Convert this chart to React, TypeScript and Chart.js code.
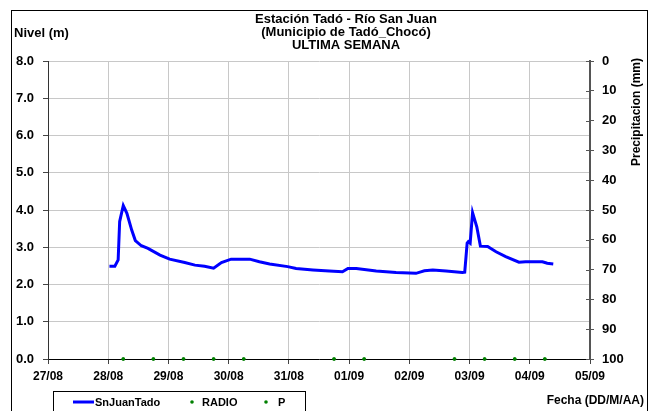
import React, { useEffect, useRef } from "react";
import { Chart, registerables } from "chart.js";

Chart.register(...registerables);

// ---- data ----
const titleLines = ["Estación Tadó - Río San Juan", "(Municipio de Tadó_Chocó)", "ULTIMA SEMANA"];
const leftAxisTitle = "Nivel (m)";
const rightAxisTitle = "Precipitacion (mm)";
const xAxisTitle = "Fecha (DD/M/AA)";

// tick labels (one per day, day 0 = 27/08)
const dateLabels = ["27/08", "28/08", "29/08", "30/08", "31/08", "01/09", "02/09", "03/09", "04/09", "05/09"];

// SnJuanTado level series: days since 27/08 00:00 and level in m
const levelDays = [
  1.02, 1.11, 1.165, 1.19, 1.25, 1.31, 1.39, 1.45, 1.55, 1.66, 1.86, 2.02, 2.27, 2.44, 2.6, 2.75, 2.88, 3.04,
  3.35, 3.51, 3.68, 3.98, 4.12, 4.4, 4.67, 4.89, 4.98, 5.12, 5.45, 5.78, 6.11, 6.19, 6.25, 6.39, 6.61, 6.88,
  6.92, 6.96, 6.98, 7.01, 7.05, 7.12, 7.18, 7.3, 7.44, 7.6, 7.82, 7.93, 8.21, 8.29, 8.39,
];
const levelValues = [
  2.49, 2.49, 2.66, 3.69, 4.12, 3.91, 3.46, 3.18, 3.04, 2.97, 2.79, 2.68, 2.59, 2.52, 2.49, 2.44, 2.59, 2.68,
  2.68, 2.61, 2.55, 2.48, 2.43, 2.39, 2.36, 2.34, 2.43, 2.43, 2.36, 2.32, 2.3, 2.34, 2.37, 2.39, 2.36, 2.32,
  2.33, 3.11, 3.15, 3.11, 3.93, 3.55, 3.03, 3.02, 2.88, 2.75, 2.6, 2.61, 2.61, 2.57, 2.55,
];

// RADIO and P point series
const radioDays = [1.25, 1.75, 2.25, 2.75, 3.25, 4.75, 5.25, 6.75, 7.25, 7.75, 8.25];
const radioValues = [0, 0, 0, 0, 0, 0, 0, 0, 0, 0, 0];
const pDays = [1.25, 1.75, 2.25, 2.75, 3.25, 4.75, 5.25, 6.75, 7.25, 7.75, 8.25];
const pValues = [0, 0, 0, 0, 0, 0, 0, 0, 0, 0, 0];

const seriesNames = ["SnJuanTado", "RADIO", "P"];

const FONT = '"Liberation Sans", Arial, Helvetica, sans-serif';

export default function App() {
  const ref = useRef<HTMLCanvasElement>(null);

  useEffect(() => {
    const canvas = ref.current;
    if (!canvas) return;

    const decor = {
      id: "decor",
      afterDraw(chart: any) {
        const ctx = chart.ctx as CanvasRenderingContext2D;
        ctx.save();
        // outer frame
        ctx.strokeStyle = "#000";
        ctx.lineWidth = 1;
        ctx.strokeRect(11.5, 10.5, 636, 440);

        // titles
        ctx.fillStyle = "#000";
        ctx.font = `bold 13px ${FONT}`;
        ctx.textAlign = "center";
        ctx.textBaseline = "middle";
        titleLines.forEach((t, i) => ctx.fillText(t, 346, 19 + i * 13));

        ctx.textAlign = "left";
        ctx.fillText(leftAxisTitle, 14, 33);

        ctx.font = `bold 12px ${FONT}`;
        ctx.textAlign = "right";
        ctx.fillText(xAxisTitle, 644, 401);

        ctx.save();
        ctx.translate(637, 112);
        ctx.rotate(-Math.PI / 2);
        ctx.textAlign = "center";
        ctx.fillText(rightAxisTitle, 0, 0);
        ctx.restore();

        // right axis crossing ticks
        const s = chart.scales.y1;
        ctx.strokeStyle = "#555";
        ctx.lineWidth = 1;
        s.ticks.forEach((t: any) => {
          const yy = Math.round(s.getPixelForValue(t.value)) + 0.5;
          ctx.beginPath();
          ctx.moveTo(s.left - 4, yy);
          ctx.lineTo(s.left, yy);
          ctx.stroke();
        });

        // legend
        ctx.strokeStyle = "#000";
        ctx.strokeRect(53.5, 391.5, 252, 40);
        const ds = chart.data.datasets;
        ctx.font = `bold 11px ${FONT}`;
        ctx.textAlign = "left";
        ctx.textBaseline = "middle";
        const ly = 402;
        // line item
        ctx.strokeStyle = ds[0].borderColor;
        ctx.lineWidth = 3;
        ctx.beginPath();
        ctx.moveTo(73, ly);
        ctx.lineTo(94, ly);
        ctx.stroke();
        ctx.fillStyle = "#000";
        ctx.fillText(ds[0].label, 95, ly + 1);
        // point items
        const items = [
          { i: 1, dot: 192, tx: 202 },
          { i: 2, dot: 266, tx: 278 },
        ];
        items.forEach(({ i, dot, tx }) => {
          ctx.fillStyle = ds[i].backgroundColor;
          ctx.beginPath();
          ctx.arc(dot, ly, 1.8, 0, Math.PI * 2);
          ctx.fill();
          ctx.fillStyle = "#000";
          ctx.fillText(ds[i].label, tx, ly + 1);
        });
        ctx.restore();
      },
    };

    const chart = new Chart(canvas, {
      type: "line",
      data: {
        datasets: [
          {
            label: seriesNames[0],
            data: levelDays.map((d, i) => ({ x: d, y: levelValues[i] })),
            borderColor: "#0000ff",
            backgroundColor: "#0000ff",
            borderWidth: 3,
            pointRadius: 0,
            tension: 0,
            yAxisID: "y",
          },
          {
            label: seriesNames[1],
            data: radioDays.map((d, i) => ({ x: d, y: radioValues[i] })),
            borderColor: "#008000",
            backgroundColor: "#008000",
            showLine: false,
            pointRadius: 1.8,
            pointBorderWidth: 0,
            clip: false,
            yAxisID: "y",
          },
          {
            label: seriesNames[2],
            data: pDays.map((d, i) => ({ x: d, y: pValues[i] })),
            borderColor: "#008000",
            backgroundColor: "#008000",
            showLine: false,
            pointRadius: 1.8,
            pointBorderWidth: 0,
            clip: false,
            yAxisID: "y",
          },
        ],
      },
      options: {
        animation: false,
        responsive: false,
        devicePixelRatio: 1,
        layout: { padding: { top: 61, left: 0, right: 0, bottom: 0 } },
        plugins: { legend: { display: false }, tooltip: { enabled: false }, title: { display: false } },
        scales: {
          x: {
            type: "linear",
            min: 0,
            max: dateLabels.length - 1,
            afterFit: (s: any) => {
              s.height = 52;
            },
            afterBuildTicks: (s: any) => {
              s.ticks = dateLabels.map((_, i) => ({ value: i }));
            },
            ticks: {
              autoSkip: false,
              maxRotation: 0,
              color: "#000",
              font: { family: FONT, size: 12, weight: "bold" },
              padding: 5,
              callback: (v: any) => dateLabels[Math.round(v)] ?? "",
            },
            grid: { color: "#c8c8c8", tickColor: "#444", tickLength: 5, lineWidth: 1 },
            border: { color: "#000", width: 1 },
          },
          y: {
            position: "left",
            min: 0,
            max: 8,
            afterFit: (s: any) => {
              s.width = 48;
            },
            ticks: {
              stepSize: 1,
              color: "#000",
              font: { family: FONT, size: 13, weight: "bold" },
              padding: 9,
              callback: (v: any) => Number(v).toFixed(1),
            },
            grid: { color: "#c8c8c8", tickColor: "#444", tickLength: 5 },
            border: { color: "#333", width: 1 },
          },
          y1: {
            position: "right",
            reverse: true,
            min: 0,
            max: 100,
            afterFit: (s: any) => {
              s.width = 61;
            },
            ticks: {
              stepSize: 10,
              color: "#000",
              font: { family: FONT, size: 13, weight: "bold" },
              padding: 8,
            },
            grid: { drawOnChartArea: false, tickColor: "#555", tickLength: 4 },
            border: { color: "#555", width: 2 },
          },
        },
      },
      plugins: [decor],
    } as any);

    return () => chart.destroy();
  }, []);

  return (
    <div style={{ position: "fixed", left: 0, top: 0, width: 651, height: 411, background: "#fff" }}>
      <canvas ref={ref} width={651} height={411} style={{ width: 651, height: 411, display: "block" }} />
    </div>
  );
}
